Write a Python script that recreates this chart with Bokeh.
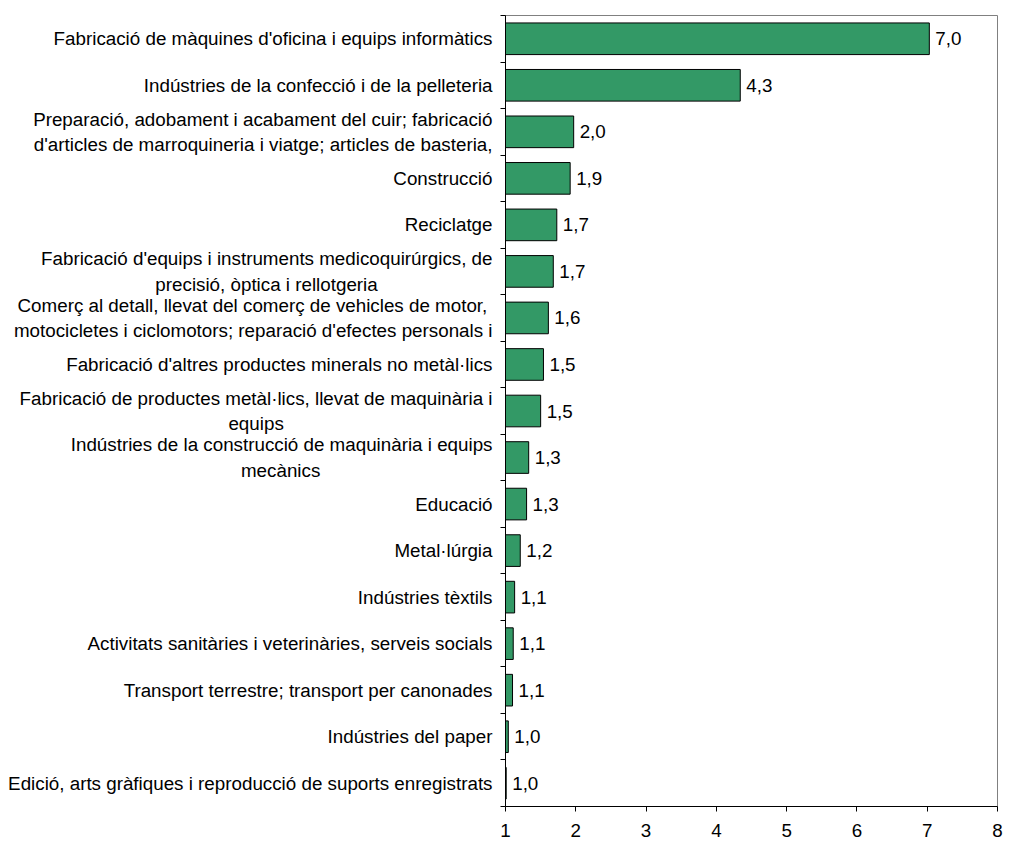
from bokeh.plotting import figure
from bokeh.models import ColumnDataSource, LabelSet, Range1d, FixedTicker
from bokeh.core.properties import value
from bokeh.embed import file_html
from bokeh.resources import INLINE

categories = [
    "Fabricació de màquines d'oficina i equips informàtics",
    "Indústries de la confecció i de la pelleteria",
    "Preparació, adobament i acabament del cuir; fabricació\nd'articles de marroquineria i viatge; articles de basteria,",
    "Construcció",
    "Reciclatge",
    "Fabricació d'equips i instruments medicoquirúrgics, de\nprecisió, òptica i rellotgeria",
    "Comerç al detall, llevat del comerç de vehicles de motor,\nmotocicletes i ciclomotors; reparació d'efectes personals i",
    "Fabricació d'altres productes minerals no metàl·lics",
    "Fabricació de productes metàl·lics, llevat de maquinària i\nequips",
    "Indústries de la construcció de maquinària i equips\nmecànics",
    "Educació",
    "Metal·lúrgia",
    "Indústries tèxtils",
    "Activitats sanitàries i veterinàries, serveis socials",
    "Transport terrestre; transport per canonades",
    "Indústries del paper",
    "Edició, arts gràfiques i reproducció de suports enregistrats",
]
values = [7.03, 4.34, 1.97, 1.92, 1.73, 1.68, 1.61, 1.54, 1.50, 1.33, 1.30, 1.21, 1.13, 1.11, 1.10, 1.04, 1.01]
x_ticks = [1, 2, 3, 4, 5, 6, 7, 8]

FONT = "Liberation Sans"
FS = 18.8
GREEN = "#339966"
NBSP = "\u00a0"

# Arial / Liberation Sans advance widths (per 1000 em), used to centre wrapped lines
W = {' ': 278, "'": 191, ',': 278, '.': 278, ';': 278, '·': 278,
     'a': 556, 'b': 556, 'c': 500, 'd': 556, 'e': 556, 'f': 278, 'g': 556, 'h': 556,
     'i': 222, 'j': 222, 'k': 500, 'l': 222, 'm': 833, 'n': 556, 'o': 556, 'p': 556,
     'q': 556, 'r': 333, 's': 500, 't': 278, 'u': 556, 'v': 500, 'w': 722, 'x': 500,
     'y': 500, 'z': 500, 'à': 556, 'è': 556, 'é': 556, 'í': 278, 'ò': 556, 'ó': 556,
     'ú': 556, 'ç': 500, 'A': 667, 'C': 722, 'E': 667, 'F': 611, 'I': 278, 'M': 833,
     'P': 667, 'R': 722, 'T': 611}


def text_w(s):
    return sum(W.get(ch, 556) for ch in s) / 1000.0


def centred_block(label):
    lines = label.split("\n")
    if len(lines) == 1:
        return label
    bw = max(text_w(s) for s in lines)
    out = []
    for s in lines:
        pad = int(round((bw - text_w(s)) / 2 / 0.278))
        out.append(s + NBSP * pad)
    return "\n".join(out)


n = len(categories)
ypos = list(range(n))

p = figure(width=1007, height=845, output_backend="svg", toolbar_location=None,
           x_range=Range1d(1, 8), y_range=Range1d(n - 0.5, -0.5),
           min_border_left=505, min_border_right=10, min_border_top=15, min_border_bottom=39)
p.background_fill_color = "white"
p.border_fill_color = "white"
p.outline_line_color = "#808080"
p.outline_line_width = 1
p.grid.visible = False

src = ColumnDataSource(dict(y=ypos, v=values,
                            lab=[f"{v:.1f}".replace(".", ",") for v in values]))
p.hbar(y="y", left=1, right="v", height=0.68, source=src,
       fill_color=GREEN, line_color="black", line_width=1)

p.add_layout(LabelSet(x="v", y="y", text="lab", source=src, x_offset=6,
                      text_align="left", text_baseline="middle",
                      text_font=value(FONT), text_font_size=value(f"{FS}px"),
                      text_color="black"))

# x axis
p.xaxis.ticker = FixedTicker(ticks=x_ticks)
p.xaxis.major_label_text_font = FONT
p.xaxis.major_label_text_font_size = f"{FS}px"
p.xaxis.major_label_text_color = "black"
p.xaxis.major_label_standoff = 12
p.xaxis.axis_line_color = "black"
p.xaxis.major_tick_line_color = "black"
p.xaxis.major_tick_out = 5
p.xaxis.major_tick_in = 0
p.xaxis.minor_tick_line_color = None

# y axis: labels at category centres, tick marks at category boundaries
p.yaxis.ticker = FixedTicker(ticks=ypos, minor_ticks=[i - 0.5 for i in range(n + 1)])
p.yaxis.major_label_overrides = {i: centred_block(c) for i, c in enumerate(categories)}
p.yaxis.major_label_text_font = FONT
p.yaxis.major_label_text_font_size = f"{FS}px"
p.yaxis.major_label_text_color = "black"
p.yaxis.major_label_standoff = 8
p.yaxis.axis_line_color = "black"
p.yaxis.major_tick_line_color = None
p.yaxis.major_tick_out = 0
p.yaxis.major_tick_in = 0
p.yaxis.minor_tick_line_color = "black"
p.yaxis.minor_tick_out = 5
p.yaxis.minor_tick_in = 0

open("out.html", "w").write(file_html(p, INLINE))
